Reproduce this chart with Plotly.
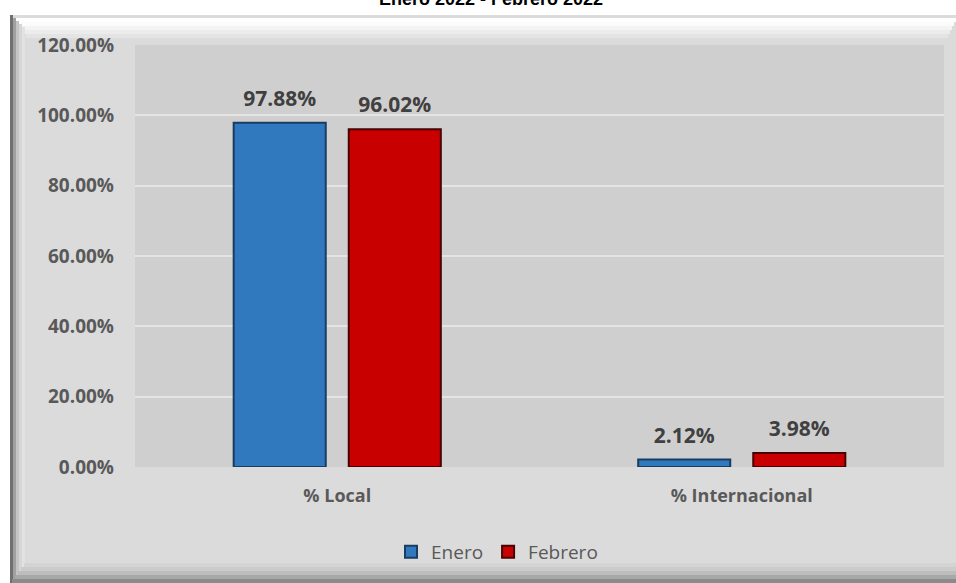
import plotly.graph_objects as go

categories = ["% Local", "% Internacional"]
enero = [97.88, 2.12]
febrero = [96.02, 3.98]
series_names = ["Enero", "Febrero"]
title_text = "Enero 2022 - Febrero 2022"

W, H = 956, 583
L, R, T, B = 135, 12, 45, 116
pw = W - L - R
ph = H - T - B

def px(x):
    return (x - L) / pw

def py(y):
    return (H - B - y) / ph

label_font = dict(family="Open Sans", size=21, color="#404040", weight="bold")

fig = go.Figure()
fig.add_trace(go.Bar(
    x=categories, y=enero, name=series_names[0], offsetgroup="a",
    marker=dict(color="#3179bf", line=dict(color="#183d60", width=2)),
))
fig.add_trace(go.Bar(
    x=categories, y=febrero, name=series_names[1], offsetgroup="b",
    marker=dict(color="#c80000", line=dict(color="#4a0000", width=2)),
))
for vals, grp in ((enero, "a"), (febrero, "b")):
    fig.add_trace(go.Scatter(
        x=categories, y=vals, offsetgroup=grp, mode="markers+text",
        text=[f"{v:.2f}%" for v in vals], textposition="top center",
        textfont=label_font, marker=dict(size=17, opacity=0),
        showlegend=False, hoverinfo="skip", cliponaxis=False,
    ))

shapes = []
# outer panel
shapes.append(dict(type="rect", xref="paper", yref="paper", layer="below",
                   x0=px(10), x1=px(958), y0=py(585), y1=py(15),
                   fillcolor="#dcdbdc", line=dict(width=0)))
# top bevel highlight
for i, c in enumerate(["#ffffff", "#fbfbfb", "#f4f4f4", "#ececec", "#e4e4e4"]):
    shapes.append(dict(type="rect", xref="paper", yref="paper", layer="below",
                       x0=px(14 + i * 3), x1=px(956 - i * 2), y0=py(18 + (i + 1) * 4), y1=py(18 + i * 4),
                       fillcolor=c, line=dict(width=0)))
# left bevel
for i, c in enumerate(["#707070", "#a0a0a0", "#c4c4c4", "#d6d6d6", "#e2e2e2"]):
    shapes.append(dict(type="rect", xref="paper", yref="paper", layer="below",
                       x0=px(10 + i * 3), x1=px(13 + i * 3), y0=py(583 - i * 3), y1=py(15 + i * 3),
                       fillcolor=c, line=dict(width=0)))
# bottom bevel
for i, c in enumerate(["#8a8a8a", "#a8a8a8", "#bdbdbd", "#cbcbcb", "#d4d4d4"]):
    shapes.append(dict(type="rect", xref="paper", yref="paper", layer="below",
                       x0=px(12 + i * 3), x1=px(956), y0=py(583 - i * 4), y1=py(579 - i * 4),
                       fillcolor=c, line=dict(width=0)))
# plot area background
shapes.append(dict(type="rect", xref="paper", yref="paper", layer="below",
                   x0=0, x1=1, y0=0, y1=1,
                   fillcolor="#d0cfd0", line=dict(width=0)))

fig.update_layout(
    width=W, height=H,
    margin=dict(l=L, r=R, t=T, b=B, autoexpand=False),
    paper_bgcolor="#ffffff",
    plot_bgcolor="rgba(0,0,0,0)",
    barmode="group",
    bargap=0.431,
    bargroupgap=0.2,
    scattermode="group",
    scattergap=0.431,
    shapes=shapes,
    showlegend=True,
    legend=dict(orientation="h", x=px(497), xanchor="center", y=py(552), yanchor="middle",
                font=dict(family="Open Sans", size=19, color="#595959"),
                bgcolor="rgba(0,0,0,0)", itemwidth=30),
    xaxis=dict(showgrid=False, showline=False, ticks="", ticklabelstandoff=16,
               tickfont=dict(family="Open Sans", size=18, color="#595959", weight="bold")),
    yaxis=dict(range=[0, 120], dtick=20, tickformat=".2f", ticksuffix="%",
               showgrid=True, gridcolor="#e4e4e4", gridwidth=1.5,
               zeroline=False, showline=False, ticks="", ticklabelstandoff=20,
               tickfont=dict(family="Open Sans", size=19, color="#595959", weight="bold")),
    annotations=[dict(text="<b>" + title_text + "</b>", xref="paper", yref="paper",
                      x=px(491), y=py(-1), xanchor="center", yanchor="middle",
                      showarrow=False, font=dict(family="Arial", size=18, color="#000000"))],
)

fig.write_html("out.html", config={"displayModeBar": False},
               post_script="document.body.style.margin='0';document.body.style.overflow='hidden';")
